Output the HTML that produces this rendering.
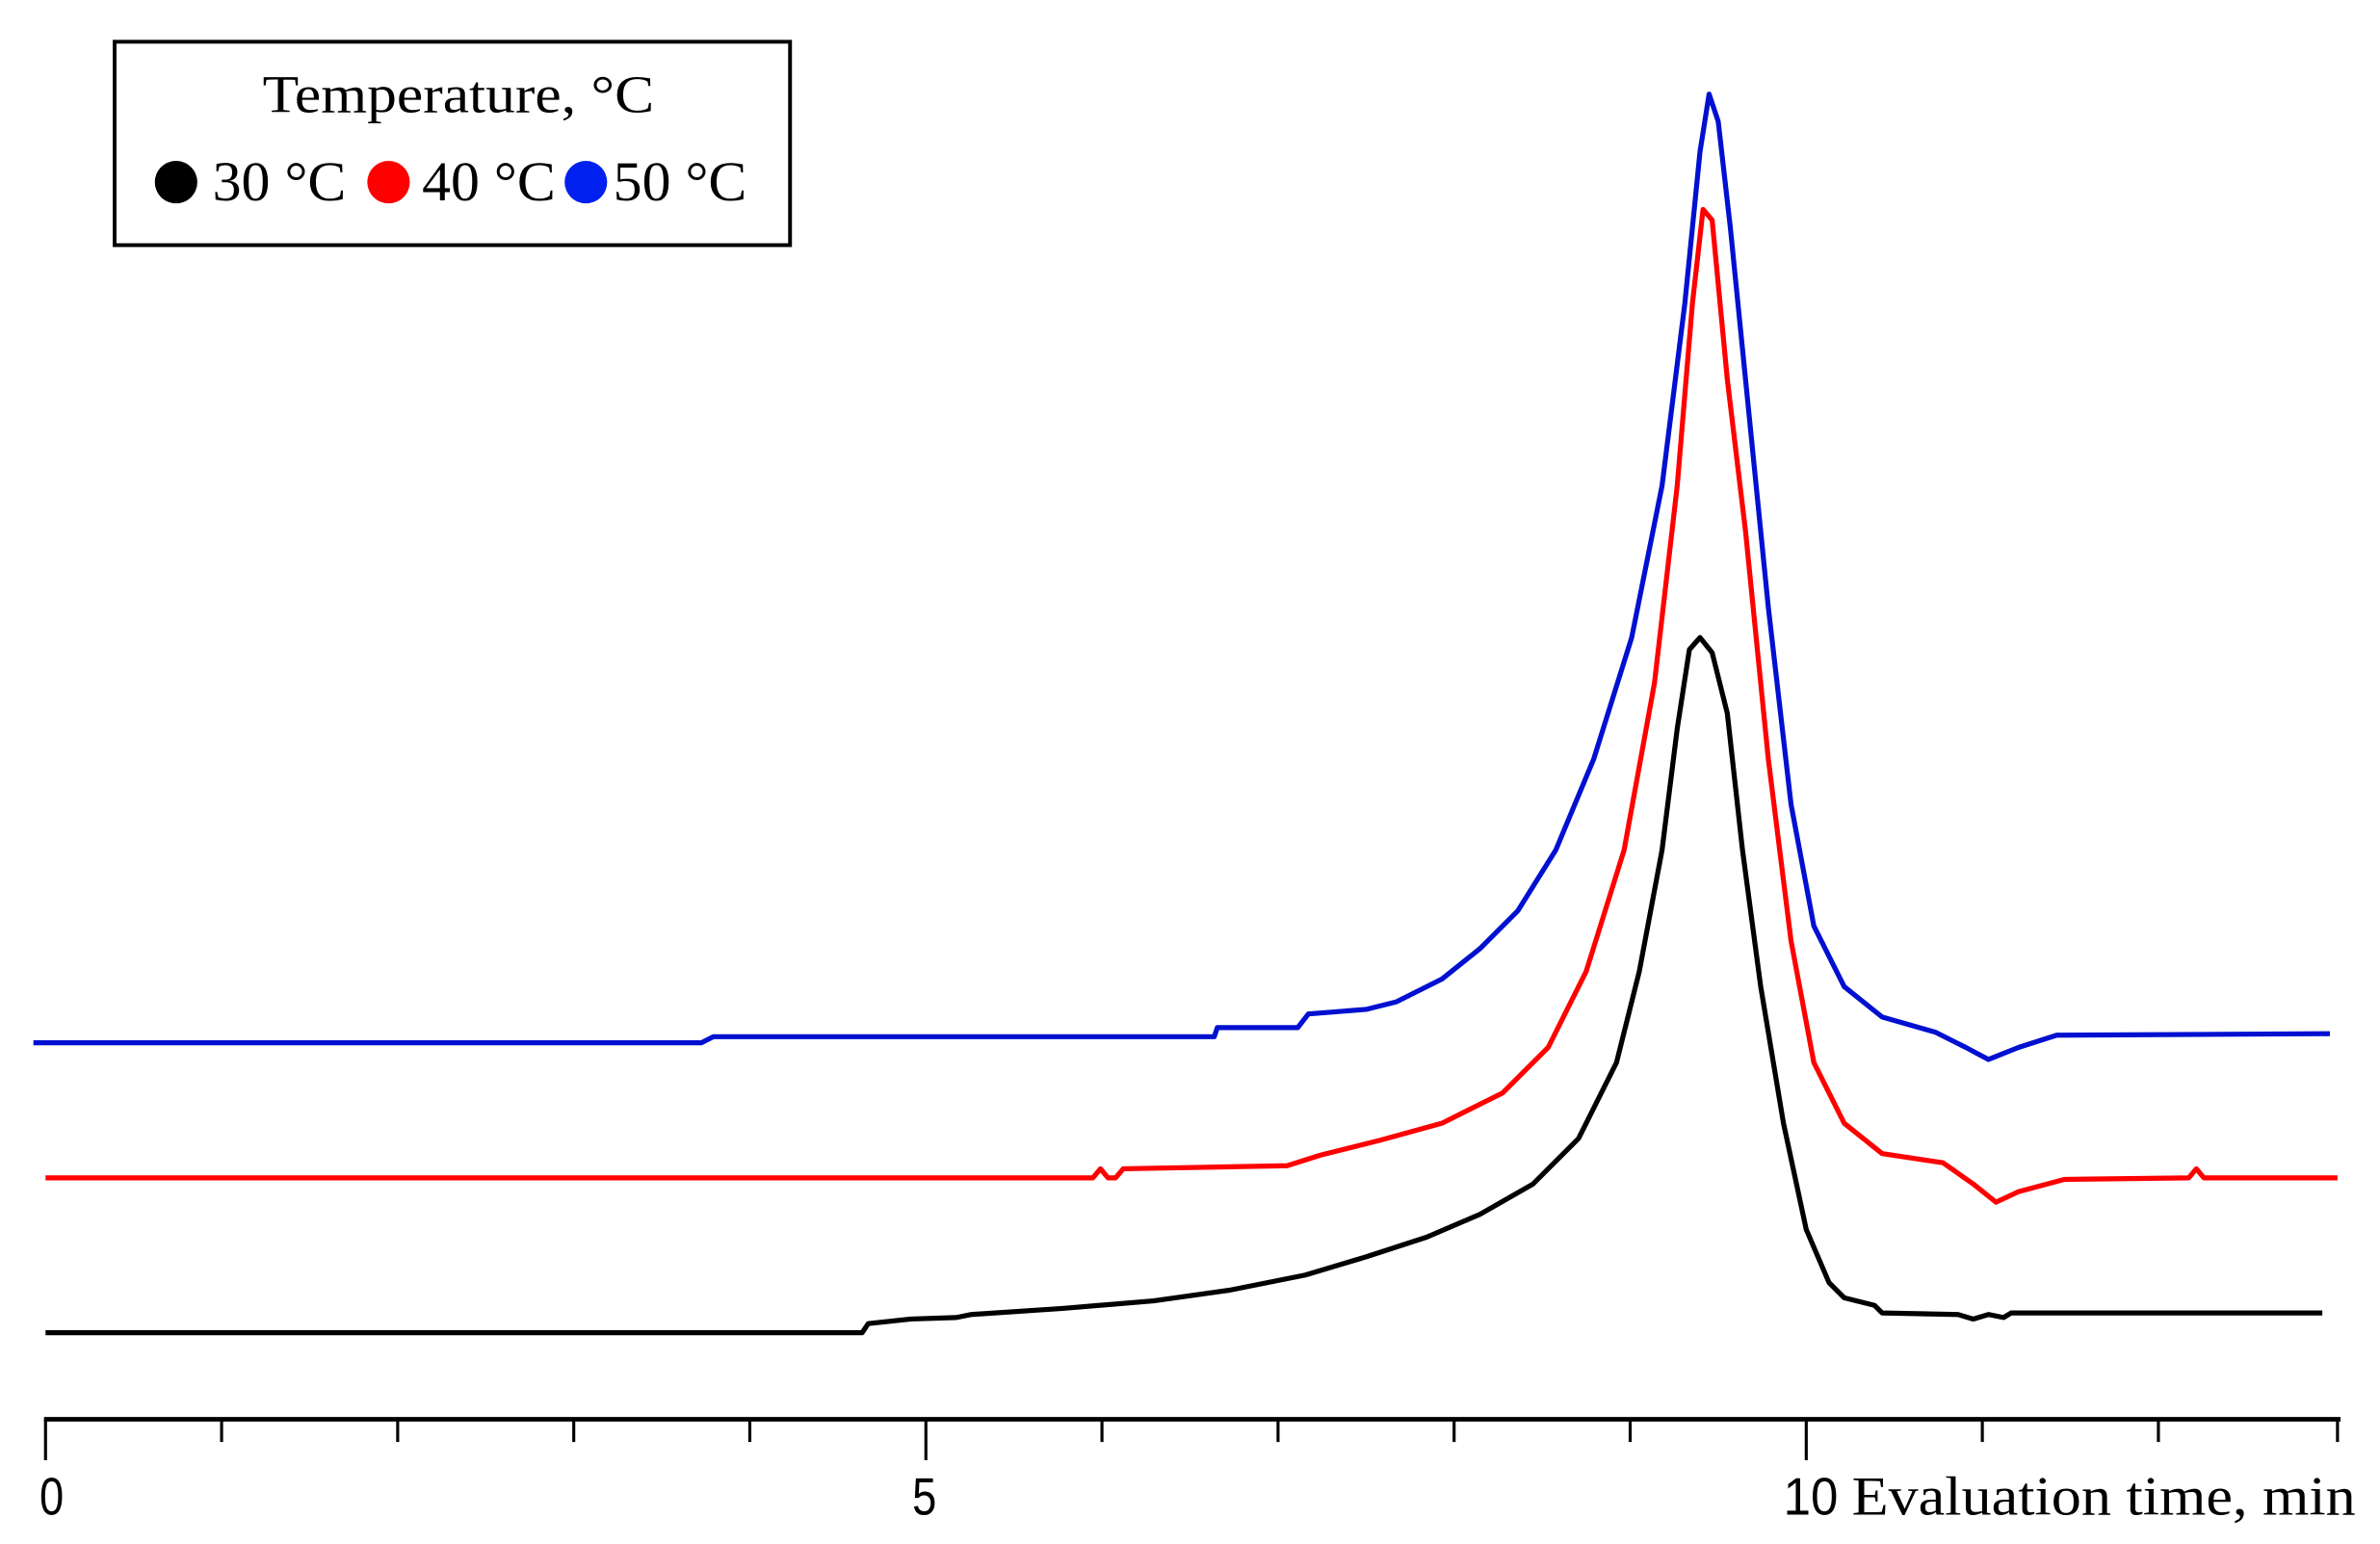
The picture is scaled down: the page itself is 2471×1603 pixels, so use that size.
<!DOCTYPE html>
<html><head><meta charset="utf-8"><style>html,body{margin:0;padding:0;background:#fff}svg{display:block}</style></head>
<body>
<svg width="2471" height="1603" viewBox="0 0 1568 1017.2" xmlns="http://www.w3.org/2000/svg" font-family="Liberation Serif, serif">
<rect width="1568" height="1018" fill="#fff"/>
<!-- legend -->
<rect x="75.5" y="27.5" width="445" height="134" fill="#fff" stroke="#000" stroke-width="2.5"/>
<text x="173" y="74" font-size="35" textLength="258" lengthAdjust="spacingAndGlyphs">Temperature, °C</text>
<circle cx="116" cy="120" r="14" fill="#000"/>
<text x="140" y="132" font-size="37" textLength="88" lengthAdjust="spacingAndGlyphs">30 °C</text>
<circle cx="256" cy="120" r="14" fill="#f00"/>
<text x="278" y="132" font-size="37" textLength="88" lengthAdjust="spacingAndGlyphs">40 °C</text>
<circle cx="386" cy="120" r="14" fill="#0020f0"/>
<text x="404" y="132" font-size="37" textLength="88" lengthAdjust="spacingAndGlyphs">50 °C</text>
<!-- axis -->
<line x1="29" y1="935" x2="1542" y2="935" stroke="#000" stroke-width="3"/>
<g stroke="#000" stroke-width="2">
<line x1="30" y1="935" x2="30" y2="962"/><line x1="146" y1="935" x2="146" y2="950"/><line x1="262" y1="935" x2="262" y2="950"/><line x1="378" y1="935" x2="378" y2="950"/><line x1="494" y1="935" x2="494" y2="950"/><line x1="610" y1="935" x2="610" y2="962"/><line x1="726" y1="935" x2="726" y2="950"/><line x1="842" y1="935" x2="842" y2="950"/><line x1="958" y1="935" x2="958" y2="950"/><line x1="1074" y1="935" x2="1074" y2="950"/><line x1="1190" y1="935" x2="1190" y2="962"/><line x1="1306" y1="935" x2="1306" y2="950"/><line x1="1422" y1="935" x2="1422" y2="950"/><line x1="1540" y1="935" x2="1540" y2="950"/>
</g>
<text x="26" y="998" font-size="35" font-family="Liberation Sans, sans-serif" textLength="16" lengthAdjust="spacingAndGlyphs">0</text>
<text x="601" y="998" font-size="35" font-family="Liberation Sans, sans-serif" textLength="16" lengthAdjust="spacingAndGlyphs">5</text>
<text x="1175" y="998" font-size="35" font-family="Liberation Sans, sans-serif" textLength="36" lengthAdjust="spacingAndGlyphs">10</text>
<text x="1220" y="998" font-size="36" textLength="332" lengthAdjust="spacingAndGlyphs">Evaluation time, min</text>
<!-- curves -->
<g fill="none" stroke-width="3.3" stroke-linejoin="round">
<polyline stroke="#000" points="30,878 568,878 572,872 600,869 630,868 640,866 700,862 760,857 810,850 860,840 900,828 940,815 975,800 1010,780 1040,750 1065,700 1080,640 1095,560 1105,480 1113,428 1120,420 1128,430 1138,470 1148,560 1160,650 1175,740 1190,810 1205,845 1215,855 1235,860 1240,865 1290,866 1300,869 1310,866 1320,868 1325,865 1530,865"/>
<polyline stroke="#f00" points="30,776 720,776 725,770 730,776 735,776 740,770 848,768 870,761 910,751 950,740 990,720 1020,690 1045,640 1070,560 1090,450 1105,320 1115,200 1122,138 1128,145 1138,250 1150,350 1165,500 1180,620 1195,700 1215,740 1240,760 1280,766 1300,780 1315,792 1330,785 1360,777 1442,776 1447,770 1452,776 1540,776"/>
<polyline stroke="#0010d0" points="22,687 462,687 470,683 800,683 802,677 855,677 862,668 900,665 920,660 950,645 975,625 1000,600 1025,560 1050,500 1075,420 1095,320 1110,200 1120,100 1126,62 1132,80 1140,150 1150,250 1165,400 1180,530 1195,610 1215,650 1240,670 1275,680 1295,690 1310,698 1330,690 1355,682 1535,681"/>
</g>
</svg>
</body></html>
